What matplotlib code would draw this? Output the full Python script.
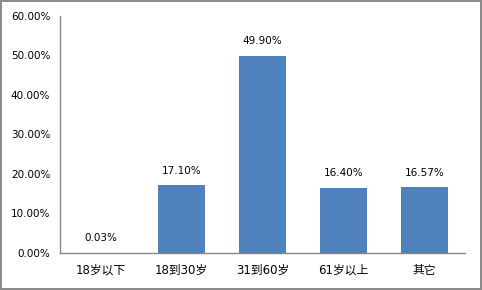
import matplotlib.pyplot as plt
import numpy as np

plt.rcParams['font.family'] = ['DejaVu Sans', 'Noto Sans CJK SC']

# Chart data
categories = ['18岁以下', '18到30岁', '31到60岁', '61岁以上', '其它']
values = [0.03, 17.10, 49.90, 16.40, 16.57]
yticks = [0, 10, 20, 30, 40, 50, 60]

fig = plt.figure(figsize=(4.82, 2.9), dpi=100)
fig.patch.set_edgecolor('#8c8c8c')
fig.patch.set_linewidth(1.5)
ax = fig.add_axes([0.1245, 0.128, 0.84, 0.817])

x = np.arange(len(categories))
ax.bar(x, values, width=0.58, color='#4F81BD')

for xi, v in zip(x, values):
    ax.annotate(f'{v:.2f}%', (xi, v), xytext=(0, 7), textcoords='offset points',
                ha='center', va='bottom', fontsize=7.5, color='#000000')

ax.set_xlim(-0.5, len(categories) - 0.5)
ax.set_ylim(0, 60)
ax.set_yticks(yticks)
ax.set_yticklabels([f'{t:.2f}%' for t in yticks])
ax.set_xticks(x)
ax.set_xticklabels(categories)
ax.tick_params(axis='y', length=0, labelsize=7.5, pad=7)
ax.tick_params(axis='x', length=0, labelsize=8.5, pad=8)

for side in ['top', 'right']:
    ax.spines[side].set_visible(False)
for side in ['left', 'bottom']:
    ax.spines[side].set_color('#868686')
    ax.spines[side].set_linewidth(1)

fig.savefig('out.png', dpi=100)
